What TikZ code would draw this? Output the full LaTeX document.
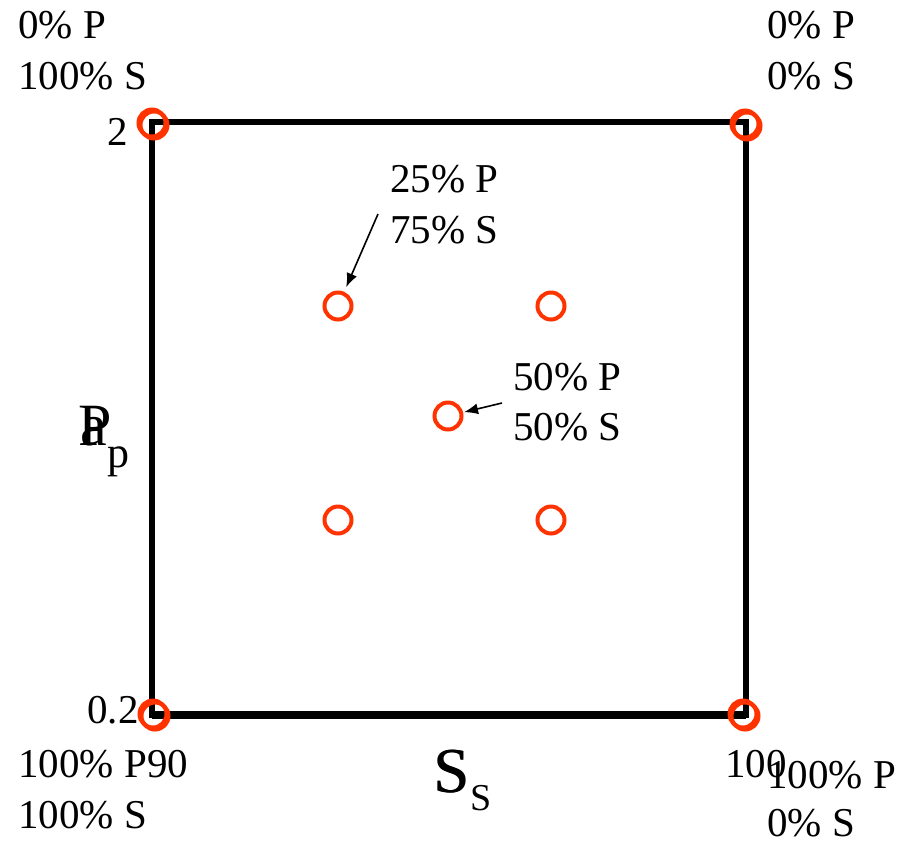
\documentclass[tikz,border=0pt]{standalone}
\usepackage{fontspec}
\setmainfont{Liberation Serif}
\usetikzlibrary{positioning, arrows.meta, calc}
\definecolor{cR}{RGB}{255,51,0}

\begin{document}
\begin{tikzpicture}[x=0.5pt, y=-0.5pt, >={Latex[length=7pt, width=5.5pt]},
    ring/.style={draw=cR, line width=2pt, circle, inner sep=0pt, minimum size=13.5pt},
    lbl/.style={anchor=base west, inner sep=0pt, font=\fontsize{20.5}{25}\selectfont},
    axlbl/.style={anchor=base west, inner sep=0pt}]

    \useasboundingbox (0,0) rectangle (904,842);

    % Frame of the design space
    \coordinate (ll) at (152,715);
    \coordinate (ur) at (746,122);
    \draw [line width=3pt] (ll) rectangle (ur);
    \draw [line width=4pt] (ll) -- (ll -| ur);

    % Corner rings (each one drawn twice, a little offset)
    \foreach \n/\x/\y in {tl/152/123, tr/745/124, bl/153/714, br/743/714} {
        \node [ring] (\n) at (\x,\y) {};
        \node [ring] (\n2) at (\x+2,\y+2) {};
    }

    % Inner rings
    \foreach \n/\x/\y in {qa/338/306, qb/551/306, qc/448/416, qd/338/520, qe/551/520}
        \node [ring] (\n) at (\x,\y) {};

    % Corner labels
    \foreach \n/\x/\y/\t in {
        tlP/18/38/{0\% P}, tlS/18/89/{100\% S},
        trP/767/38/{0\% P}, trS/767/89/{0\% S},
        blP/18/777/{100\% P}, blS/18/828/{100\% S},
        brP/767/788/{100\% P}, brS/767/836/{0\% S},
        aP/390/192/{25\% P}, aS/390/243/{75\% S},
        cP/513/390/{50\% P}, cS/513/440/{50\% S}
    }
        \node [lbl] (\n) at (\x,\y) {\t};

    % Tick values on the axes
    \node [lbl] (yhi) at (107,145) {2};
    \node [lbl] (ylo) at (87,723) {0.2};
    \node [lbl] (xlo) at (147,777) {90};
    \node [lbl] (xhi) at (725,777) {100};

    % Axis names (overprinted)
    \node [axlbl, font=\fontsize{30}{30}\selectfont] (yP) at (78,445) {P};
    \node [axlbl, font=\fontsize{30}{30}\selectfont] (ya) at (80,445) {a\raisebox{-11pt}{\fontsize{22}{22}\selectfont p}};
    \node [axlbl, font=\fontsize{32}{32}\selectfont] (xS) at (433,792) {S};
    \node [axlbl, font=\fontsize{32}{32}\selectfont] (xSs) at (434.5,792) {S\raisebox{-9pt}{\fontsize{19}{19}\selectfont S}};

    % Pointers to the marked runs
    \coordinate (aT) at (378,214);
    \coordinate (cT) at (502,403);
    \draw [->, line width=0.8pt, shorten >=2.5pt] (aT) -- (qa);
    \draw [->, line width=0.8pt, shorten >=0.5pt] (cT) -- (qc);
\end{tikzpicture}
\end{document}
